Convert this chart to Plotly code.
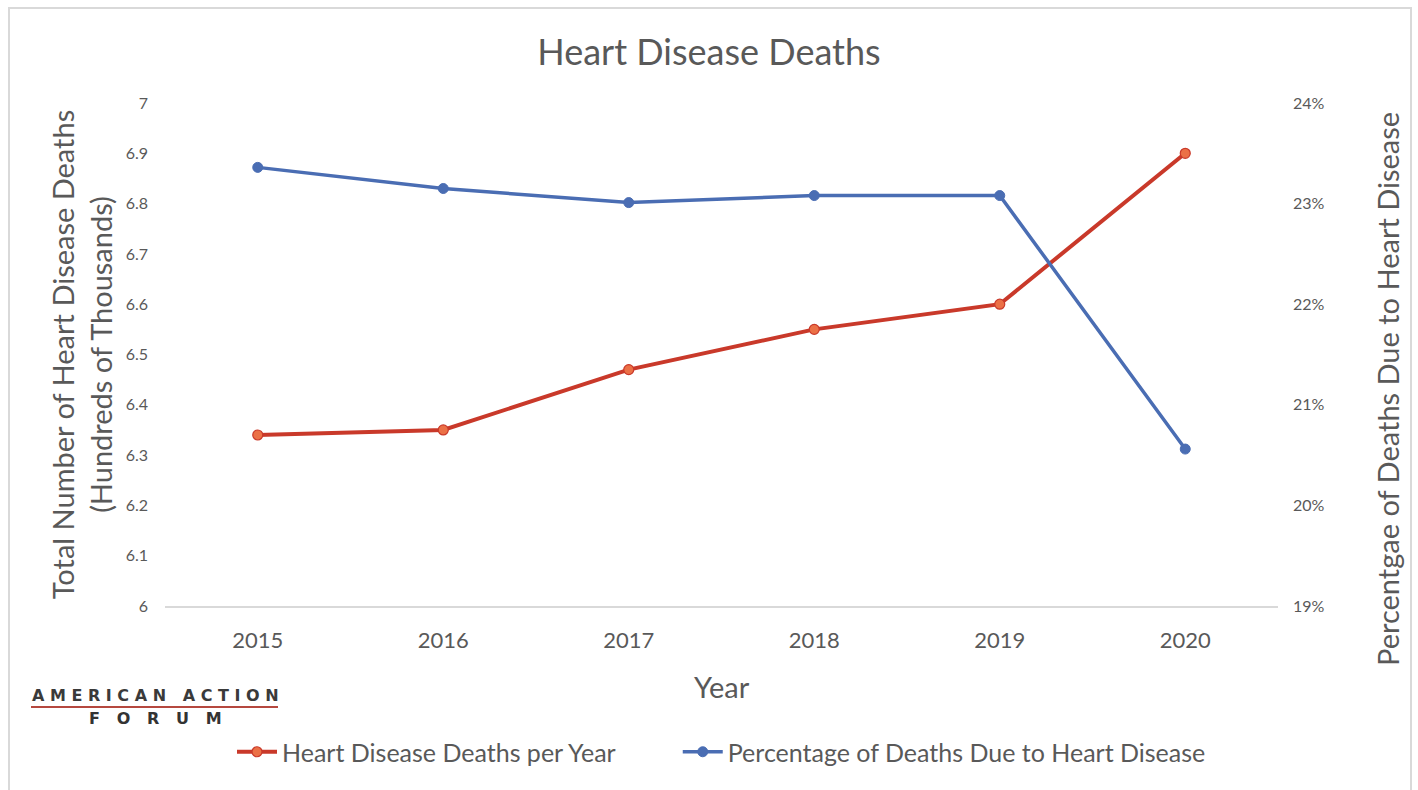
import plotly.graph_objects as go

years = ["2015", "2016", "2017", "2018", "2019", "2020"]
deaths_hundred_thousands = [6.34, 6.35, 6.47, 6.55, 6.60, 6.90]
pct_deaths = [0.2336, 0.2315, 0.2301, 0.2308, 0.2308, 0.2056]
left_ticks = [6, 6.1, 6.2, 6.3, 6.4, 6.5, 6.6, 6.7, 6.8, 6.9, 7]
left_tick_text = ["6", "6.1", "6.2", "6.3", "6.4", "6.5", "6.6", "6.7", "6.8", "6.9", "7"]
right_ticks = [0.19, 0.20, 0.21, 0.22, 0.23, 0.24]
right_tick_text = ["19%", "20%", "21%", "22%", "23%", "24%"]

FONT = "Lato, Open Sans, sans-serif"
GRAY = "#595959"
RED = "#C9392A"
BLUE = "#4A6DB3"

fig = go.Figure()
fig.add_trace(go.Scatter(
    x=years, y=deaths_hundred_thousands,
    name="Heart Disease Deaths per Year&nbsp;&nbsp;&nbsp;&nbsp;&nbsp;&nbsp;&nbsp;&nbsp;&nbsp;",
    mode="lines+markers",
    line=dict(color=RED, width=4),
    marker=dict(size=10, color="#EB7046", line=dict(color=RED, width=1.2)),
    yaxis="y",
))
fig.add_trace(go.Scatter(
    x=years, y=pct_deaths, name="Percentage of Deaths Due to Heart Disease",
    mode="lines+markers",
    line=dict(color=BLUE, width=3.5),
    marker=dict(size=10, color=BLUE, line=dict(color=BLUE, width=1)),
    yaxis="y2",
))

L, R, T, B = 165, 140, 103, 184
W, H = 1418, 790
pw, ph = W - L - R, H - T - B

def px(x):
    return (x - L) / pw

def py(y):
    return (H - B - y) / ph

fig.update_layout(
    width=W, height=H,
    margin=dict(l=L, r=R, t=T, b=B),
    paper_bgcolor="white", plot_bgcolor="white",
    font=dict(family=FONT, color=GRAY),
    title=dict(text="Heart Disease Deaths", x=0.5, xanchor="center", y=1 - 52 / H, yanchor="middle",
               font=dict(size=36, color=GRAY, family=FONT)),
    xaxis=dict(type="category", range=[-0.5, 5.5], showgrid=False, showline=True,
               linecolor="#D9D9D9", linewidth=2, ticklabelstandoff=14,
               ticks="", tickfont=dict(size=22, color=GRAY)),
    yaxis=dict(range=[6, 7], tickvals=left_ticks, ticktext=left_tick_text, showgrid=False,
               zeroline=False, showline=False, ticks="", tickfont=dict(size=16, color=GRAY),
               ticklabelstandoff=16,
               title=dict(text="Total Number of Heart Disease Deaths<br>(Hundreds of Thousands)",
                          font=dict(size=29, color=GRAY), standoff=4)),
    yaxis2=dict(range=[0.19, 0.24], tickvals=right_ticks, ticktext=right_tick_text, overlaying="y",
                side="right", showgrid=False, zeroline=False, showline=False, ticks="",
                ticklabelstandoff=14, tickfont=dict(size=16, color=GRAY)),
    legend=dict(orientation="h", x=0.5, xanchor="center", y=py(752), yanchor="middle",
                font=dict(size=25, color=GRAY), itemwidth=40, tracegroupgap=0),
    showlegend=True,
)

# x axis title placed to match the reference position
fig.add_annotation(xref="paper", yref="paper", x=px(722), y=py(686), xanchor="center", yanchor="middle",
                   text="Year", showarrow=False, font=dict(size=29, color=GRAY, family=FONT))

# right axis title placed to match the reference position
fig.add_annotation(xref="paper", yref="paper", x=px(1388), y=py(389), xanchor="center", yanchor="middle",
                   text="Percentgae of Deaths Due to Heart Disease", textangle=-90, showarrow=False,
                   font=dict(size=29, color=GRAY, family=FONT))

# chart frame
fig.add_shape(type="rect", xref="paper", yref="paper",
              x0=px(9), x1=px(1411), y0=py(800), y1=py(8),
              line=dict(color="#D9D9D9", width=2), fillcolor="rgba(0,0,0,0)", layer="below")

# logo
fig.add_annotation(xref="paper", yref="paper", x=px(155), y=py(695), xanchor="center", yanchor="middle",
                   text="<b>A M E R I C A N   A C T I O N</b>", showarrow=False,
                   font=dict(size=16, color="#3a3a3a", family="DejaVu Sans"))
fig.add_shape(type="line", xref="paper", yref="paper", x0=px(31), x1=px(278), y0=py(707), y1=py(707),
              line=dict(color="#B5483F", width=2))
fig.add_annotation(xref="paper", yref="paper", x=px(155), y=py(718), xanchor="center", yanchor="middle",
                   text="<b>F   O   R   U   M</b>", showarrow=False,
                   font=dict(size=16, color="#333333", family="DejaVu Sans"))

fig.write_html("out.html")
